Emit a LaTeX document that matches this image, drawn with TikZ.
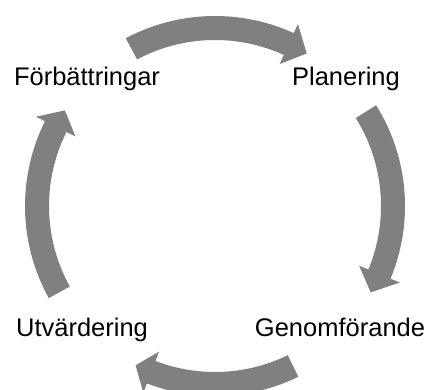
\documentclass[tikz,border=0pt]{standalone}
\usepackage{fontspec}
\setmainfont{Liberation Sans}
\usepackage{tikz}
\usetikzlibrary{positioning,calc}
\definecolor{arrowgray}{HTML}{808080}
\definecolor{ink}{HTML}{000000}
\tikzset{
  steplabel/.style={text=ink,anchor=base,inner sep=0pt,
                    font=\fontsize{25.5}{30}\selectfont},
  cyclefill/.style={fill=arrowgray,draw=none}
}
% curved arrow: tail angle, head base angle, tip angle
\newcommand{\cyclearrow}[3]{%
  \fill[cyclefill] (#1:190) arc[start angle=#1,end angle=#2,radius=190]
    -- (#2:200) -- (#3:178) -- (#2:156) -- (#2:166)
    arc[start angle=#2,end angle=#1,radius=166] -- cycle;}

\begin{document}
\begin{tikzpicture}[x=1pt,y=1pt]
  \clip (0,0) rectangle (430,389);

  \node[steplabel] (impr) at (87,304) {Förbättringar};
  \node[steplabel] (plan) at (346,304) {Planering};
  \node[steplabel] (exec) at (340,53) {Genomförande};
  \node[steplabel] (eval) at (82,53) {Utvärdering};

  \begin{scope}[shift={(215,183)}]
    \cyclearrow{118}{65.5}{59}
    \cyclearrow{32}{-22.5}{-29}
    \cyclearrow{-64}{-111}{-116.5}
    \cyclearrow{209}{153.5}{147.5}
  \end{scope}
\end{tikzpicture}
\end{document}
